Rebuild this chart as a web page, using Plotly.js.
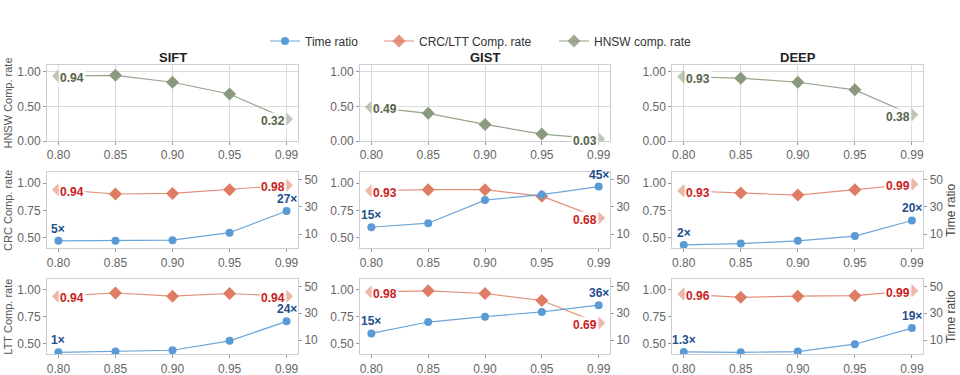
<!DOCTYPE html>
<html>
<head>
<meta charset="utf-8">
<script src="https://cdn.plot.ly/plotly-3.0.1.min.js"></script>
<style>
  html, body { margin: 0; padding: 0; background: #fff; }
  #chart { width: 960px; height: 375px; }
</style>
</head>
<body>
<div id="chart"></div>
<script>
// Target recall levels (categorical x axis)
const recall = ['0.80', '0.85', '0.90', '0.95', '0.99'];
const datasets = ['SIFT', 'GIST', 'DEEP'];

// HNSW compression rate
const hnswSift = [0.94, 0.95, 0.85, 0.68, 0.32];
const hnswGist = [0.49, 0.40, 0.24, 0.10, 0.03];
const hnswDeep = [0.93, 0.91, 0.85, 0.74, 0.38];

// CRC compression rate and time ratio
const crcSift = [0.94, 0.90, 0.905, 0.94, 0.98];
const crcGist = [0.93, 0.94, 0.94, 0.88, 0.68];
const crcDeep = [0.93, 0.91, 0.89, 0.94, 0.99];
const crcTimeSift = [5, 5, 5.5, 11, 27];
const crcTimeGist = [15, 18, 35, 39, 45];
const crcTimeDeep = [2, 3, 5, 8.5, 20];

// LTT compression rate and time ratio
const lttSift = [0.94, 0.97, 0.94, 0.965, 0.94];
const lttGist = [0.98, 0.99, 0.965, 0.90, 0.69];
const lttDeep = [0.96, 0.93, 0.94, 0.945, 0.99];
const lttTimeSift = [1, 1.5, 2.5, 9.5, 24];
const lttTimeGist = [15, 23.5, 27.5, 31, 36];
const lttTimeDeep = [1.3, 1, 1.5, 7, 19];

const rowTitles = ['HNSW Comp. rate', 'CRC Comp. rate', 'LTT Comp. rate'];
const seriesNames = ['Time ratio', 'CRC/LTT Comp. rate', 'HNSW comp. rate'];
const timeTicks = [10, 30, 50];
const rateTicksTop = [0, 0.5, 1.0];
const rateTicks = [0.5, 0.75, 1.0];

const hnswRows = [hnswSift, hnswGist, hnswDeep];
const rateRows = [[crcSift, crcGist, crcDeep], [lttSift, lttGist, lttDeep]];
const timeRows = [[crcTimeSift, crcTimeGist, crcTimeDeep], [lttTimeSift, lttTimeGist, lttTimeDeep]];

// styling
const W = 960, H = 375;
const colPx = [[47, 298], [360, 610], [672.3, 923.3]];
const rowPx = [[65, 141], [172.3, 248.3], [279, 354.3]];
const legendPx = [265, 379, 554];
const C_TIME = '#5b9bd5', C_RATE = '#de7d64', C_HNSW = '#8a9a7e';
const L_TIME = '#1f4e8c', L_RATE = '#c81e1e', L_HNSW = '#566449';
const FONT = 'Liberation Sans, Arial, sans-serif';
const TICK_C = '#666666';
const BORDER = '#c9ced4';

const fmtRate = v => v.toFixed(2);
const fmtTime = v => (Number.isInteger(v) ? String(v) : v.toFixed(1)) + '×';
const endOpacity = [0.55, 1, 1, 1, 0.55];
const FIRST = 0, LAST = recall.length - 1;

const traces = [];
const layout = {
  width: W, height: H,
  margin: {l: 0, r: 0, t: 0, b: 0},
  paper_bgcolor: '#fff', plot_bgcolor: '#fff',
  font: {family: FONT, size: 12, color: TICK_C},
  showlegend: true,
  annotations: [],
};

// one legend box per series, laid out in a row above the panels
['legend', 'legend2', 'legend3'].forEach((k, i) => {
  layout[k] = {
    orientation: 'h', x: legendPx[i] / W, xanchor: 'left', y: 1 - 41 / H, yanchor: 'middle',
    font: {family: FONT, size: 12, color: '#333'}, bgcolor: 'rgba(0,0,0,0)', borderwidth: 0,
  };
});

function addLabel(xref, yref, x, y, text, color, side) {
  const a = {
    xref, yref, x, y, text, showarrow: false,
    font: {family: FONT, size: 12, color, weight: 'bold'},
  };
  if (side === 'left' || side === 'right') {
    a.xanchor = side;
    a.yanchor = 'middle';
    a.yshift = -2;
    a.bgcolor = 'rgba(255,255,255,0.85)';
    a.borderpad = 1;
  } else {
    a.xanchor = 'center';
    a.yanchor = 'bottom';
    a.yshift = 3;
  }
  layout.annotations.push(a);
}

for (let r = 0; r < 3; r++) {
  for (let c = 0; c < 3; c++) {
    const n = r * 3 + c + 1;
    const xk = 'xaxis' + n, yk = 'yaxis' + n;
    const xr = 'x' + n, yr = 'y' + n;
    const dom = [colPx[c][0] / W, colPx[c][1] / W];
    const ydom = [1 - rowPx[r][1] / H, 1 - rowPx[r][0] / H];
    layout[xk] = {
      domain: dom, anchor: yr, type: 'category', range: [-0.2, 4.2],
      showline: true, mirror: true, linecolor: BORDER, linewidth: 1,
      ticks: 'outside', ticklen: 3, tickcolor: '#999', tickwidth: 1,
      showgrid: r === 0, gridcolor: '#dadada', gridwidth: 1,
      tickfont: {family: FONT, size: 12, color: TICK_C}, zeroline: false,
    };
    layout[yk] = {
      domain: ydom, anchor: xr,
      range: r === 0 ? [0, 1.1] : [0.4, 1.1],
      tickvals: r === 0 ? rateTicksTop : rateTicks,
      ticktext: (r === 0 ? rateTicksTop : rateTicks).map(v => v.toFixed(2)),
      showline: true, mirror: true, linecolor: BORDER, linewidth: 1,
      ticks: 'outside', ticklen: 3, tickcolor: '#999', tickwidth: 1,
      showgrid: r === 0, gridcolor: '#dadada', gridwidth: 1, zeroline: false,
      tickfont: {family: FONT, size: 12, color: TICK_C},
    };
    if (c === 0) {
      layout[yk].title = {text: rowTitles[r], font: {family: FONT, size: 11, color: '#555'}, standoff: 2};
    }
    if (r === 0) {
      layout.annotations.push({
        xref: 'paper', yref: 'paper', x: (dom[0] + dom[1]) / 2, y: 1 - 57 / H,
        text: datasets[c], showarrow: false, xanchor: 'center', yanchor: 'middle',
        font: {family: FONT, size: 13, color: '#222', weight: 'bold'},
      });
      const vals = hnswRows[c];
      traces.push({
        x: recall, y: vals, xaxis: xr, yaxis: yr, type: 'scatter', mode: 'lines+markers',
        name: seriesNames[2], legend: 'legend3', showlegend: c === 0,
        line: {color: 'rgba(138,154,126,0.9)', width: 1.2},
        marker: {symbol: 'diamond', size: 10, color: C_HNSW, opacity: endOpacity},
      });
      addLabel(xr, yr, FIRST, vals[FIRST], fmtRate(vals[FIRST]), L_HNSW, 'left');
      addLabel(xr, yr, LAST, vals[LAST], fmtRate(vals[LAST]), L_HNSW, 'right');
    } else {
      const sn = n + 6;
      const y2k = 'yaxis' + sn, y2r = 'y' + sn;
      layout[y2k] = {
        overlaying: yr, anchor: xr, side: 'right', range: [-0.5, 55.5],
        tickvals: timeTicks, showgrid: false, zeroline: false, showline: false,
        ticks: 'outside', ticklen: 3, tickcolor: '#999', tickwidth: 1,
        tickfont: {family: FONT, size: 12, color: TICK_C},
      };
      if (c === 2) {
        layout[y2k].title = {text: 'Time ratio', font: {family: FONT, size: 12, color: '#444'}, standoff: 4};
      }
      const rates = rateRows[r - 1][c];
      const times = timeRows[r - 1][c];
      traces.push({
        x: recall, y: times, xaxis: xr, yaxis: y2r, type: 'scatter', mode: 'lines+markers',
        name: seriesNames[0], legend: 'legend', showlegend: n === 4,
        line: {color: 'rgba(91,155,213,0.9)', width: 1.2},
        marker: {symbol: 'circle', size: 8, color: C_TIME},
      });
      traces.push({
        x: recall, y: rates, xaxis: xr, yaxis: yr, type: 'scatter', mode: 'lines+markers',
        name: seriesNames[1], legend: 'legend2', showlegend: n === 4,
        line: {color: 'rgba(222,125,100,0.85)', width: 1.2},
        marker: {symbol: 'diamond', size: 10, color: C_RATE, opacity: endOpacity},
      });
      addLabel(xr, yr, FIRST, rates[FIRST], fmtRate(rates[FIRST]), L_RATE, 'left');
      addLabel(xr, yr, LAST, rates[LAST], fmtRate(rates[LAST]), L_RATE, 'right');
      addLabel(xr, y2r, FIRST, times[FIRST], fmtTime(times[FIRST]), L_TIME, 'top');
      addLabel(xr, y2r, LAST, times[LAST], fmtTime(times[LAST]), L_TIME, 'top');
    }
  }
}

Plotly.newPlot('chart', traces, layout, {displayModeBar: false, staticPlot: true});
</script>
</body>
</html>
